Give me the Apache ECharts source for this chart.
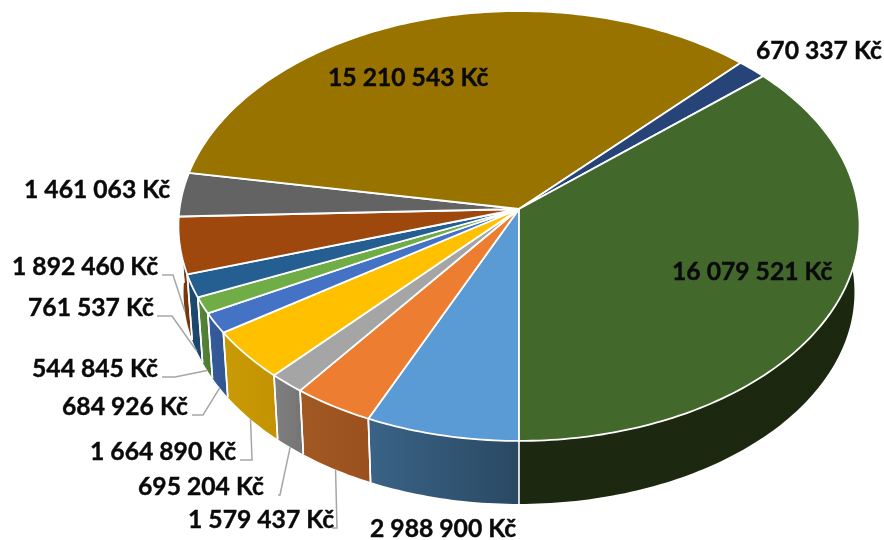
<!DOCTYPE html>
<html>
<head>
<meta charset="utf-8">
<style>html,body{margin:0;padding:0;background:#fff}#main{width:884px;height:540px}</style>
<script src="https://cdn.jsdelivr.net/npm/echarts@6/dist/echarts.min.js"></script>
</head>
<body>
<div id="main"></div>
<script>
// clockwise from the bottom of the pie
const sliceValues = [2988900, 1579437, 695204, 1664890, 684926, 544845, 761537, 1892460, 1461063, 15210543, 670337, 16079521];
const topColors = ['#5b9bd5', '#ed7d31', '#a5a5a5', '#ffc000', '#4472c4', '#70ad47', '#255e91', '#9e480e', '#636363', '#997300', '#264478', '#43682b'];
const wallLeft = ['#3a6386', '#a25823', '#808080', '#c99a06', '#355c9f', '#568637', '#1e4b74', '#7c390b', '#4f4f4f', '#7a5c00', '#1e3660', '#1c2910'];
const wallRight = ['#2a4963', '#9a511d', '#747474', '#c39200', '#31558f', '#4f7a32', '#1b4468', '#763509', '#4f4f4f', '#7a5c00', '#1e3660', '#1b270f'];

// label left edge / vertical centre, leader start and elbow x (null = no leader)
const labelLayout = [
  { x: 370, y: 529, lead: null, elbow: null },
  { x: 188, y: 520, lead: 332, elbow: 337 },
  { x: 138, y: 487, lead: 278, elbow: 280 },
  { x: 90, y: 452, lead: 240, elbow: 252 },
  { x: 62, y: 407, lead: 192, elbow: 203 },
  { x: 32, y: 369, lead: 162, elbow: 175 },
  { x: 28, y: 308, lead: 157, elbow: 172 },
  { x: 12, y: 267, lead: 162, elbow: 173 },
  { x: 24, y: 190, lead: null, elbow: null },
  { x: 328, y: 78, lead: null, elbow: null },
  { x: 756, y: 51, lead: null, elbow: null },
  { x: 672, y: 272, lead: null, elbow: null }
];

const CX = 519, CY = 209, RX = 339.5, RY = 213.6, PERSP = 0.079;
const DEPTH = 66.5, BOTTOM_SCALE = 0.985;
const total = sliceValues.reduce((a, b) => a + b, 0);

function project(deg, dz, s) {
  const a = deg * Math.PI / 180;
  const x = Math.sin(a), y = -Math.cos(a);
  const w = 1 - PERSP * y;
  return [CX + RX * s * x / w, CY + dz + RY * s * y / w];
}

function arc(from, to, dz, s) {
  const pts = [];
  const n = Math.max(2, Math.ceil(Math.abs(to - from)));
  for (let i = 0; i <= n; i++) pts.push(project(from + (to - from) * i / n, dz, s));
  return pts;
}

function money(v) {
  return String(v).replace(/\B(?=(\d{3})+$)/g, ' ') + ' Kč';
}

function seam(deg) {
  const p = project(deg, 0, 1), q = project(deg, DEPTH, BOTTOM_SCALE);
  return {
    type: 'line', z2: 2,
    shape: { x1: p[0], y1: p[1], x2: q[0], y2: q[1] },
    style: { stroke: '#fff', lineWidth: 1.6 }
  };
}

function renderSlice(params, api) {
  const i = params.dataIndex;
  let before = 0;
  for (let k = 0; k < i; k++) before += sliceValues[k];
  const a0 = 180 + before / total * 360;
  const a1 = a0 + api.value(0) / total * 360;
  const children = [];

  // side wall, only the front part of the ring
  const ranges = [[180, 285], [425, 540]];
  ranges.forEach(function (r) {
    const from = Math.max(a0, r[0]), to = Math.min(a1, r[1]);
    if (to <= from) return;
    const upper = arc(from, to, 0, 1);
    const lower = arc(from, to, DEPTH, BOTTOM_SCALE);
    children.push({
      type: 'polygon', z2: 1,
      shape: { points: upper.concat(lower.reverse()) },
      style: {
        fill: new echarts.graphic.LinearGradient(0, 0, 1, 0, [
          { offset: 0, color: wallLeft[i] },
          { offset: 1, color: wallRight[i] }
        ])
      }
    });
    [from, to].forEach(function (edge) {
      if (edge !== r[0] && edge !== r[1]) children.push(seam(edge));
    });
  });
  // bottom seam, between first and last slice
  if (i === 0) children.push(seam(180));

  // top face
  children.push({
    type: 'polygon', z2: 3,
    shape: { points: [[CX, CY]].concat(arc(a0, a1, 0, 1)) },
    style: { fill: topColors[i], stroke: '#fff', lineWidth: 1.8, lineJoin: 'round' }
  });

  const lay = labelLayout[i];
  if (lay.elbow !== null) {
    const tip = project((a0 + a1) / 2, DEPTH, BOTTOM_SCALE);
    const ly = lay.y + 8;
    children.push({
      type: 'polyline', z2: 4,
      shape: { points: [[lay.lead, ly], [lay.elbow, ly], tip] },
      style: { stroke: '#a6a6a6', lineWidth: 1.5, fill: null }
    });
  }
  children.push({
    type: 'text', z2: 5,
    style: {
      x: lay.x, y: lay.y, text: money(api.value(0)),
      font: 'bold 24.7px Lato, sans-serif', fill: '#0a0a0a',
      stroke: '#0a0a0a', lineWidth: 0.4,
      align: 'left', verticalAlign: 'middle'
    }
  });
  return { type: 'group', children: children };
}

const chart = echarts.init(document.getElementById('main'));
chart.setOption({
  animation: false,
  backgroundColor: '#fff',
  series: [{
    type: 'custom',
    coordinateSystem: 'none',
    silent: true,
    renderItem: renderSlice,
    data: sliceValues.map(v => [v])
  }]
});
</script>
</body>
</html>
